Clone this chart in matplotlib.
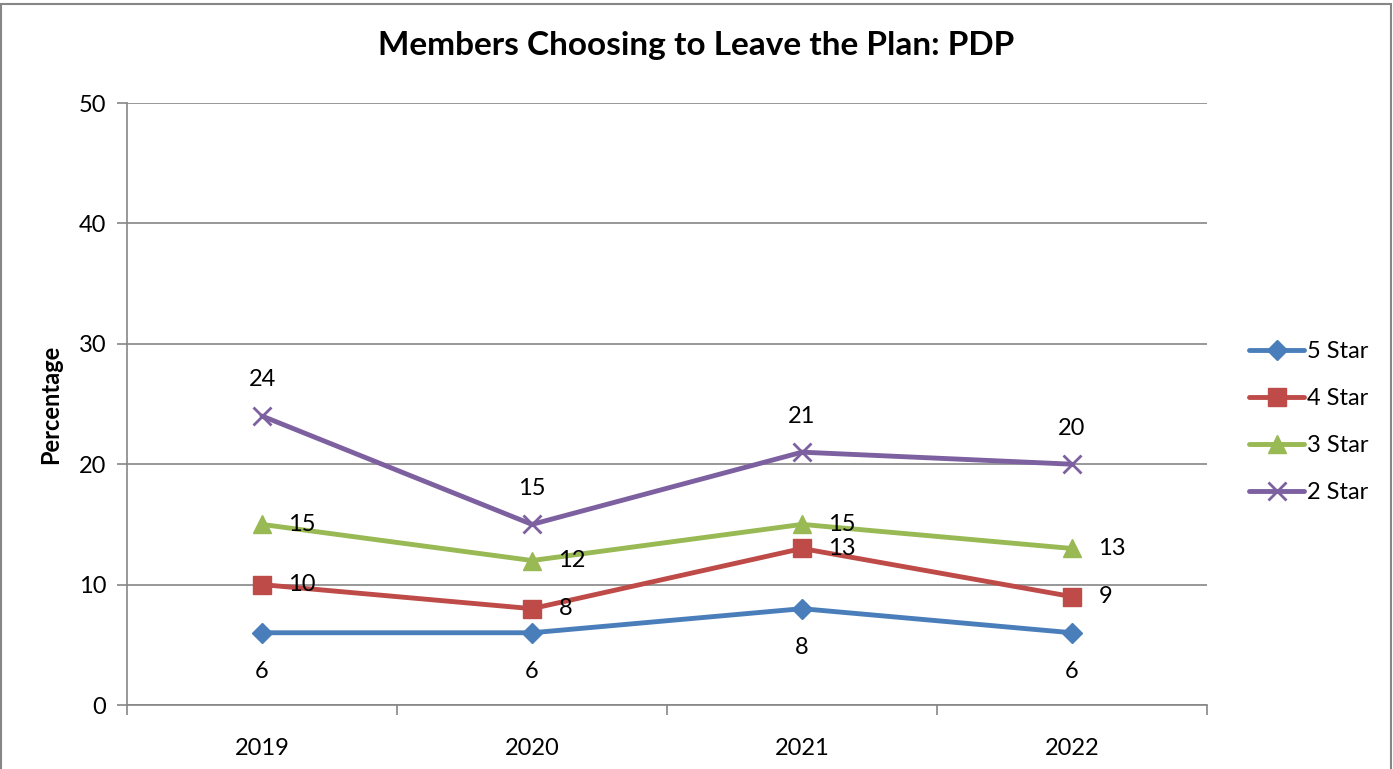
import matplotlib
matplotlib.use("Agg")
import matplotlib.pyplot as plt
from matplotlib.patches import Rectangle

years = ["2019", "2020", "2021", "2022"]
series_names = ["5 Star", "4 Star", "3 Star", "2 Star"]
star5 = [6, 6, 8, 6]
star4 = [10, 8, 13, 9]
star3 = [15, 12, 15, 13]
star2 = [24, 15, 21, 20]
y_ticks = [0, 10, 20, 30, 40, 50]

values = [star5, star4, star3, star2]
colors = ["#4A7EBB", "#BE4B48", "#98B954", "#7D60A0"]
markers = ["D", "s", "^", "x"]
msizes = [10, 13, 13, 13]
# label offsets in points (dx, dy)
offsets = [(0, -28), (19, 0), (19, 0), (0, 26)]
ha_list = ["center", "left", "left", "center"]

plt.rcParams['font.family'] = ['Lato', 'DejaVu Sans']
FS = 17

fig = plt.figure(figsize=(13.93, 7.69), dpi=100)
fig.patches.append(Rectangle((1/1393, -0.01), 1390/1393, 1 - 4/769 + 0.01,
                             transform=fig.transFigure, fill=False,
                             edgecolor="#868686", linewidth=1.5))
ax = fig.add_axes([127/1393, 1 - 705/769, 1080/1393, 602/769])

x = list(range(len(years)))
handles = []
for vals, c, m, ms, name, off, ha in zip(values, colors, markers, msizes,
                                         series_names, offsets, ha_list):
    mew = 2 if m == "x" else 1
    h, = ax.plot(x, vals, color=c, linewidth=3.5, marker=m, markersize=ms,
                 markeredgewidth=mew, markerfacecolor=c, markeredgecolor=c,
                 label=name, zorder=3, solid_capstyle="round")
    handles.append(h)
    for xi, v in zip(x, vals):
        ax.annotate(str(v), (xi, v), xytext=off, textcoords="offset points",
                    ha=ha, va="center", fontsize=FS, color="black", zorder=4)

ax.set_xlim(-0.5, 3.5)
ax.set_ylim(0, 50)
ax.set_yticks(y_ticks)
ax.yaxis.grid(True, color="#868686", linewidth=1.2)
ax.set_axisbelow(True)
ax.set_xticks([-0.5, 0.5, 1.5, 2.5, 3.5])
ax.set_xticklabels([])
ax.set_xticks(x, minor=True)
ax.set_xticklabels(years, minor=True, fontsize=FS)
ax.tick_params(axis="x", which="minor", length=0, pad=24)
ax.tick_params(axis="x", which="major", length=7, color="#868686", width=1.2)
ax.tick_params(axis="y", length=7, color="#868686", width=1.2, labelsize=FS, pad=8)
for s in ["top", "right"]:
    ax.spines[s].set_visible(False)
for s in ["left", "bottom"]:
    ax.spines[s].set_color("#868686")
    ax.spines[s].set_linewidth(1.2)

ax.set_ylabel("Percentage", fontsize=FS, fontweight="bold")
ax.yaxis.set_label_coords(-(127 - 62) / 1080, 0.5)
fig.text(0.5, 1 - 46/769, "Members Choosing to Leave the Plan: PDP",
         ha="center", va="center", fontsize=24, fontweight="bold")

leg = fig.legend(handles=handles, loc="center left",
                 bbox_to_anchor=(1240/1393, 1 - 422/769), frameon=False,
                 fontsize=FS, handlelength=2.3, handletextpad=0.15,
                 labelspacing=1.1, borderaxespad=0)

fig.savefig("out.png", dpi=100)
